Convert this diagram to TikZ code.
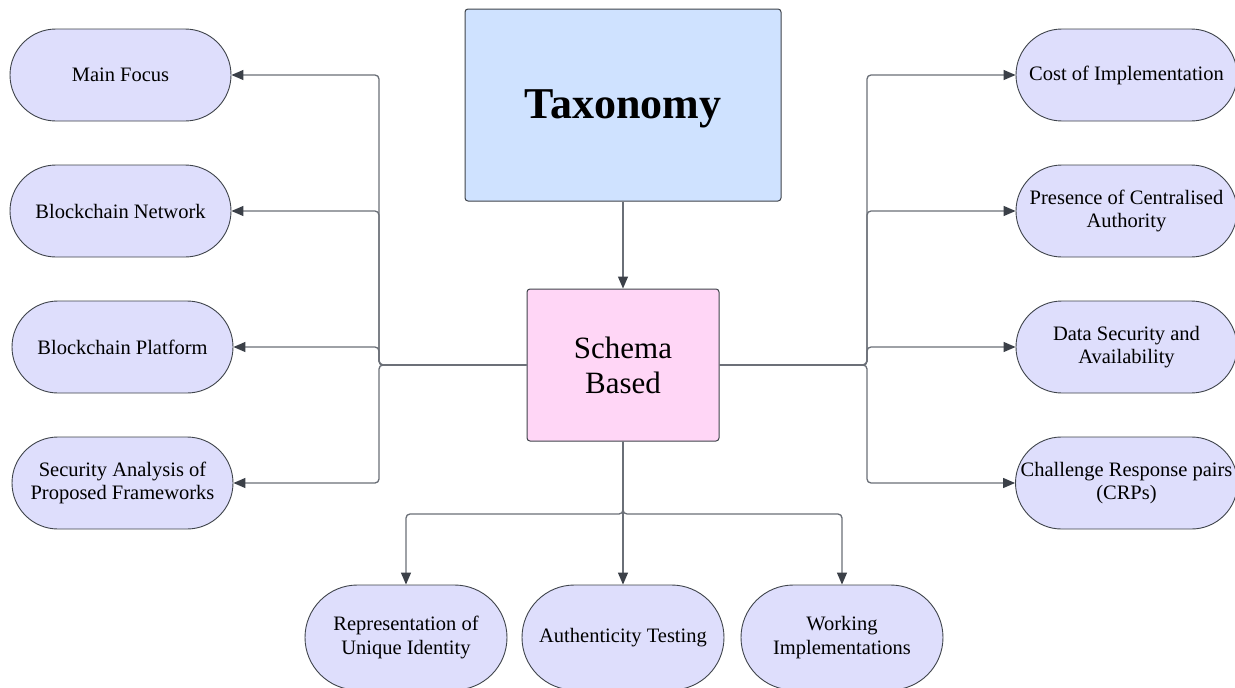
\documentclass[tikz,border=0pt]{standalone}
\usepackage{fontspec}
\setmainfont{Liberation Serif}
\usetikzlibrary{arrows.meta,shapes.misc}
\definecolor{pillfill}{HTML}{DEDEFC}
\definecolor{taxfill}{HTML}{CFE2FF}
\definecolor{schfill}{HTML}{FFD6F6}
\definecolor{edgecol}{HTML}{3F444B}
\definecolor{linecol}{HTML}{6A6F77}
\definecolor{tipcol}{HTML}{3B4048}
\tikzset{
  pill/.style={rounded rectangle, draw=edgecol, line width=0.9pt, fill=pillfill,
    minimum width=221pt, minimum height=92pt, inner sep=0pt, align=center,
    font=\fontsize{20.5}{23.5}\selectfont},
  bpill/.style={pill, minimum width=202pt, minimum height=105pt},
  conn/.style={draw=linecol, line width=1.3pt, rounded corners=4pt},
  arr/.style={conn, -{Triangle[length=12pt,width=10pt,color=tipcol]}},
  box/.style={rectangle, rounded corners=3pt, draw=edgecol, line width=1pt, align=center, inner sep=0pt}
}
\begin{document}
\begin{tikzpicture}[x=1pt,y=-1pt]
\clip (0,0) rectangle (1235,688);
\fill[white] (0,0) rectangle (1235,688);
% main boxes
\node[box, fill=taxfill, minimum width=316pt, minimum height=192pt,
  font=\fontsize{44}{50}\selectfont\bfseries] (T) at (623,105) {};
\node[font=\fontsize{44}{50}\selectfont\bfseries, inner sep=0pt, anchor=base] (Tl) at (623,118) {Taxonomy};
\node[box, fill=schfill, minimum width=192pt, minimum height=152pt,
  font=\fontsize{31}{35}\selectfont] (S) at (623,365) {Schema\\Based};
% left pills
\node[pill] (L1) at (120.5,75) {Main Focus};
\node[pill] (L2) at (120.5,211) {Blockchain Network};
\node[pill] (L3) at (122.5,347) {Blockchain Platform};
\node[pill] (L4) at (122.5,483) {Security Analysis of\\Proposed Frameworks};
% right pills
\node[pill] (R1) at (1126.5,75) {Cost of Implementation};
\node[pill] (R2) at (1126.5,211) {Presence of Centralised\\Authority};
\node[pill] (R3) at (1126.5,347) {Data Security and\\Availability};
\node[pill] (R4) at (1126.5,483) {Challenge Response pairs\\(CRPs)};
% bottom pills
\node[bpill] (B1) at (406,637.5) {Representation of\\Unique Identity};
\node[bpill] (B2) at (623,637.5) {Authenticity Testing};
\node[bpill] (B3) at (842,637.5) {Working\\Implementations};
% connectors
\coordinate (LJ) at (379,365);
\coordinate (RJ) at (867,365);
\coordinate (BJ) at (623,514);
\draw[arr] (T.south) -- (S.north);
\foreach \n in {L1,L2,L3,L4} {\draw[arr] (S.west) -- (LJ) |- (\n.east);}
\foreach \n in {R1,R2,R3,R4} {\draw[arr] (S.east) -- (RJ) |- (\n.west);}
\draw[arr] (S.south) -- (BJ) -| (B1.north);
\draw[arr] (S.south) -- (B2.north);
\draw[arr] (S.south) -- (BJ) -| (B3.north);
\end{tikzpicture}
\end{document}
